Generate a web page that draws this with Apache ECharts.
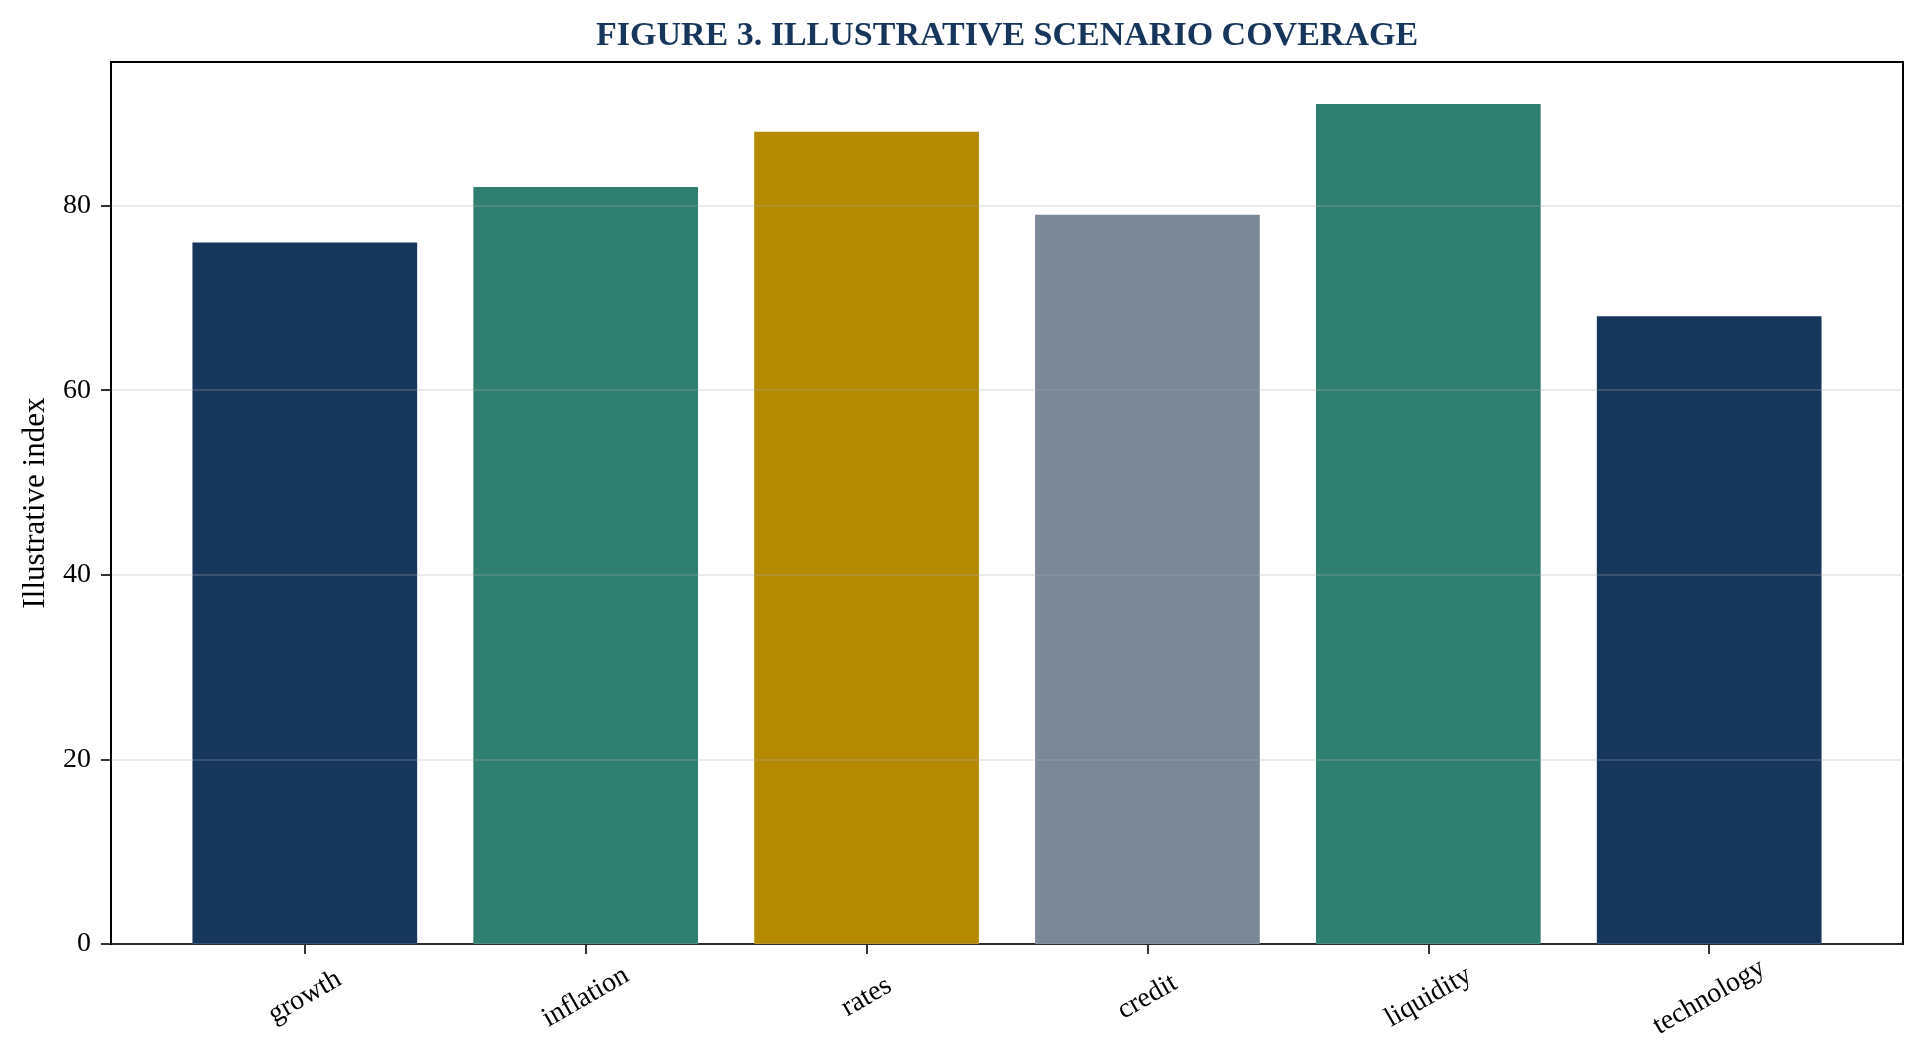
<!DOCTYPE html>
<html lang="en">
<head>
  <meta charset="UTF-8">
  <title>Figure 3 - Illustrative scenario coverage</title>
  <script src="https://cdn.jsdelivr.net/npm/echarts@6/dist/echarts.min.js"></script>
  <style>
    body { margin: 0; padding: 0; background: #ffffff; }
    #chart { width: 1924px; height: 1063px; }
  </style>
</head>
<body>
  <div id="chart"></div>
  <script>
    // data
    var categories = ['growth', 'inflation', 'rates', 'credit', 'liquidity', 'technology'];
    var coverage = [76, 82, 88, 79, 91, 68];
    var yTicks = [0, 20, 40, 60, 80];
    var barColors = ['#17365c', '#2e7f6f', '#b38a00', '#7a8797', '#2e7f6f', '#17365c'];

    var font = "'Liberation Serif', 'Times New Roman', serif";
    var positions = categories.map(function (c, i) { return i; });

    var chart = echarts.init(document.getElementById('chart'));
    var option = {
      backgroundColor: '#ffffff',
      animation: false,
      title: {
        text: 'FIGURE 3. ILLUSTRATIVE SCENARIO COVERAGE',
        left: 1007,
        textAlign: 'center',
        top: 19,
        padding: 0,
        textStyle: { fontFamily: font, fontSize: 34, fontWeight: 'bold', color: '#17365c' }
      },
      grid: {
        left: 111, right: 21, top: 62, bottom: 119,
        show: true, borderColor: '#000', borderWidth: 2, backgroundColor: 'transparent'
      },
      xAxis: {
        type: 'value',
        min: -0.69,
        max: categories.length - 1 + 0.69,
        axisLine: { show: true, onZero: false, lineStyle: { color: '#000', width: 2 } },
        axisTick: { show: true, customValues: positions, length: 10, lineStyle: { color: '#000', width: 1.6 } },
        splitLine: { show: false },
        axisLabel: {
          customValues: positions,
          rotate: 30,
          align: 'center',
          verticalAlign: 'middle',
          margin: 53,
          fontFamily: font, fontSize: 28, color: '#000',
          formatter: function (v) { return categories[Math.round(v)]; }
        }
      },
      yAxis: {
        type: 'value',
        min: 0,
        max: Math.max.apply(null, coverage) * 1.05,
        z: 5,
        name: 'Illustrative index',
        nameLocation: 'middle',
        nameGap: 60,
        nameTextStyle: { fontFamily: font, fontSize: 31, color: '#000' },
        axisLine: { show: true, onZero: false, lineStyle: { color: '#000', width: 2 } },
        axisTick: { show: true, customValues: yTicks, length: 10, lineStyle: { color: '#000', width: 1.6 } },
        axisLabel: {
          customValues: yTicks,
          margin: 20,
          fontFamily: font, fontSize: 28, color: '#000'
        },
        splitLine: { show: true, lineStyle: { color: 'rgba(170,170,170,0.25)', width: 2 } }
      },
      series: [{
        type: 'bar',
        barWidth: '80%',
        data: coverage.map(function (v, i) {
          return { value: [i, v], itemStyle: { color: barColors[i] } };
        })
      }]
    };
    chart.setOption(option);
  </script>
</body>
</html>
